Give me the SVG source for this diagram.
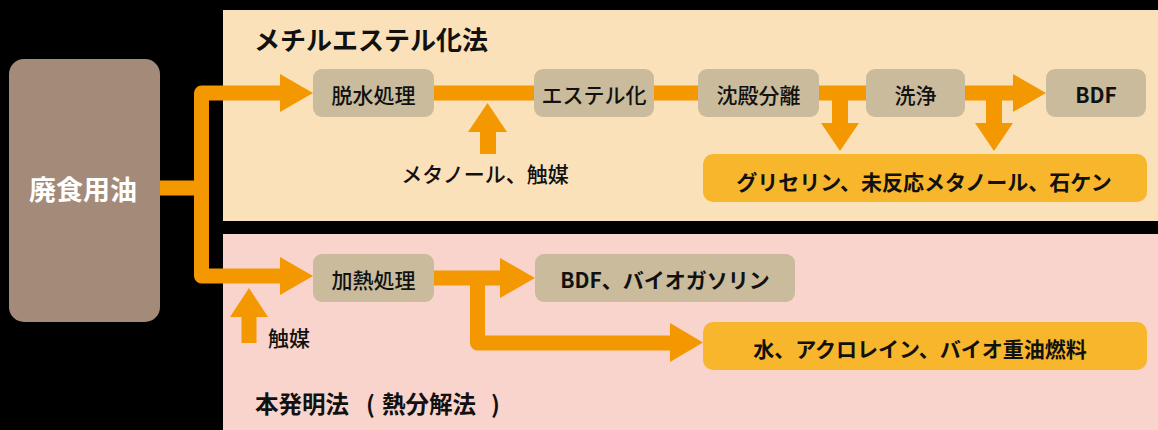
<svg xmlns="http://www.w3.org/2000/svg" width="1158" height="430" viewBox="0 0 1158 430">
<style>
.t{font-family:"Noto Sans CJK JP","Noto Sans",sans-serif;fill:#111;text-anchor:middle;font-weight:500}
.b{font-weight:bold}
.box{fill:#C9BB9C}
.ybox{fill:#F8B62C}
.ln{fill:none;stroke:#F39800;stroke-width:15;stroke-linejoin:round}
.ah{fill:#F39800}
</style>
<rect x="0" y="0" width="1158" height="430" fill="#000"/>
<rect x="223" y="10" width="935" height="211" fill="#FBE1B9"/>
<rect x="223" y="234" width="935" height="196" fill="#F9D4CD"/>
<text class="t b" x="254" y="50" font-size="26" style="text-anchor:start">メチルエステル化法</text>
<text class="t b" y="413" font-size="23.5" style="text-anchor:start"><tspan x="255">本発明法</tspan><tspan x="366">(</tspan><tspan x="382">熱分解法</tspan><tspan x="491">)</tspan></text>
<g id="connectors">
<path class="ln" d="M160 188H201.5"/>
<path class="ln" d="M282 93H201.5V276H282"/>
<polygon class="ah" points="280,74 313,93 280,112"/>
<polygon class="ah" points="280,257 313,276 280,295"/>
<path class="ln" d="M434 93H534"/>
<path class="ln" d="M654 93H698"/>
<path class="ln" d="M819 93H866"/>
<path class="ln" d="M965 93H1015"/>
<polygon class="ah" points="1013,74 1046,93 1013,112"/>
<polygon class="ah" points="480,154 496,154 496,132 507,132 487.5,103 468,132 480,132"/>
<polygon class="ah" points="832,100 848,100 848,123 859,123 840,151 821,123 832,123"/>
<polygon class="ah" points="986,100 1002,100 1002,123 1013,123 994,151 975,123 986,123"/>
<polygon class="ah" points="241.5,343 256.5,343 256.5,317 268,317 249,288 230,317 241.5,317"/>
<path class="ln" d="M434 278H502"/>
<polygon class="ah" points="500,258 535,278 500,298"/>
<path class="ln" d="M477.5 278V343H672"/>
<polygon class="ah" points="670,323 703,342.5 670,362"/>
</g>
<g id="n-haishokuyouyu"><rect x="9" y="59" width="151" height="263" rx="15" fill="#A48B79"/><text class="t b" x="83" y="200" font-size="27" style="fill:#fff">廃食用油</text></g>
<g id="n-dassui"><rect class="box" x="313" y="69" width="121" height="48" rx="9"/><text class="t" x="373.5" y="102.5" font-size="21">脱水処理</text></g>
<g id="n-ester"><rect class="box" x="534" y="69" width="120" height="48" rx="9"/><text class="t" x="594" y="102.5" font-size="21">エステル化</text></g>
<g id="n-chinden"><rect class="box" x="698" y="69" width="121" height="48" rx="9"/><text class="t" x="758.5" y="102.5" font-size="21">沈殿分離</text></g>
<g id="n-senjou"><rect class="box" x="866" y="69" width="99" height="48" rx="9"/><text class="t" x="915.5" y="102.5" font-size="21">洗浄</text></g>
<g id="n-bdf"><rect class="box" x="1046" y="69" width="100" height="48" rx="9"/><text class="t b" x="1096" y="102.5" font-size="21">BDF</text></g>
<g id="n-methanol"><text class="t" x="485" y="182" font-size="21">メタノール、触媒</text></g>
<g id="n-glycerin"><rect class="ybox" x="703" y="154" width="444" height="48" rx="10"/><text class="t b" x="924" y="190" font-size="21">グリセリン、未反応メタノール、石ケン</text></g>
<g id="n-kanetsu"><rect class="box" x="313" y="254" width="121" height="48" rx="9"/><text class="t" x="373.5" y="288" font-size="21">加熱処理</text></g>
<g id="n-shokubai"><text class="t" x="289" y="346" font-size="21">触媒</text></g>
<g id="n-bdf2"><rect class="box" x="535" y="254" width="260" height="48" rx="9"/><text class="t b" x="665" y="288" font-size="21">BDF、バイオガソリン</text></g>
<g id="n-mizu"><rect class="ybox" x="703" y="322" width="444" height="48" rx="10"/><text class="t b" x="920" y="357" font-size="21">水、アクロレイン、バイオ重油燃料</text></g>
</svg>
